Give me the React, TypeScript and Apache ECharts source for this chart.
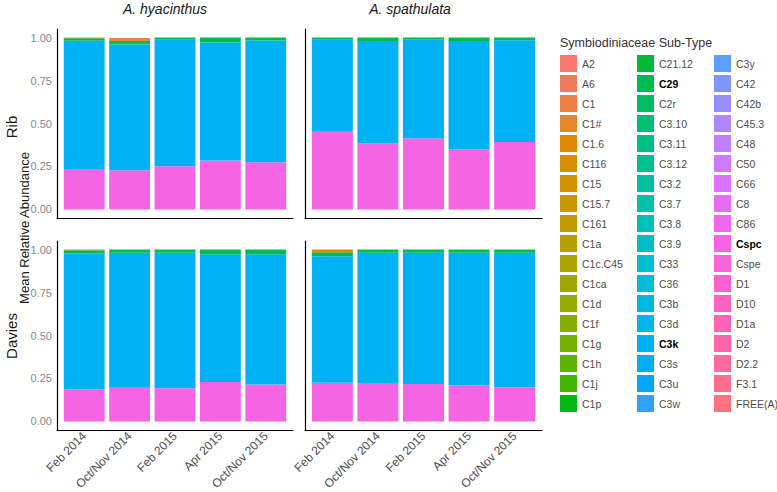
import React, { useEffect, useRef } from "react";
import * as echarts from "echarts";

const categories = ["Feb 2014", "Oct/Nov 2014", "Feb 2015", "Apr 2015", "Oct/Nov 2015"];

const subtypes = [
  "A2", "A6", "C1", "C1#", "C1.6", "C116", "C15", "C15.7", "C161", "C1a", "C1c.C45", "C1ca", "C1d", "C1f", "C1g", "C1h", "C1j", "C1p",
  "C21.12", "C29", "C2r", "C3.10", "C3.11", "C3.12", "C3.2", "C3.7", "C3.8", "C3.9", "C33", "C36", "C3b", "C3d", "C3k", "C3s", "C3u", "C3w",
  "C3y", "C42", "C42b", "C45.3", "C48", "C50", "C66", "C8", "C86", "Cspc", "Cspe", "D1", "D10", "D1a", "D2", "D2.2", "F3.1", "FREE(A)",
];
const boldTypes = ["C29", "C3k", "Cspc"];

const yTicks = [0, 0.25, 0.5, 0.75, 1];

// Rib, A. hyacinthus
const ribHyaCspc = [0.235, 0.228, 0.251, 0.284, 0.274];
const ribHyaC3k = [0.746, 0.732, 0.736, 0.687, 0.709];
const ribHyaC3_10 = [0.0, 0.008, 0.0, 0.0, 0.0];
const ribHyaC29 = [0.015, 0.012, 0.013, 0.029, 0.017];
const ribHyaC1 = [0.004, 0.018, 0.0, 0.0, 0.0];

// Rib, A. spathulata
const ribSpaCspc = [0.457, 0.383, 0.413, 0.348, 0.393];
const ribSpaC3k = [0.53, 0.597, 0.577, 0.632, 0.592];
const ribSpaC29 = [0.013, 0.02, 0.01, 0.02, 0.015];

// Davies, A. hyacinthus
const davHyaCspc = [0.187, 0.196, 0.193, 0.229, 0.215];
const davHyaC3k = [0.79, 0.785, 0.788, 0.744, 0.758];
const davHyaC29 = [0.019, 0.019, 0.019, 0.027, 0.027];
const davHyaC1 = [0.004, 0.0, 0.0, 0.0, 0.0];

// Davies, A. spathulata
const davSpaCspc = [0.225, 0.223, 0.217, 0.209, 0.199];
const davSpaC3k = [0.736, 0.758, 0.764, 0.772, 0.782];
const davSpaC29 = [0.023, 0.019, 0.019, 0.019, 0.019];
const davSpaC1_6 = [0.016, 0.0, 0.0, 0.0, 0.0];

const panelData: Record<string, number[]>[] = [
  { Cspc: ribHyaCspc, C3k: ribHyaC3k, "C3.10": ribHyaC3_10, C29: ribHyaC29, C1: ribHyaC1 },
  { Cspc: ribSpaCspc, C3k: ribSpaC3k, C29: ribSpaC29 },
  { Cspc: davHyaCspc, C3k: davHyaC3k, C29: davHyaC29, C1: davHyaC1 },
  { Cspc: davSpaCspc, C3k: davSpaC3k, C29: davSpaC29, "C1.6": davSpaC1_6 },
];

function hcl(h: number, c: number, l: number): string {
  const hr = (h * Math.PI) / 180;
  const U = c * Math.cos(hr);
  const V = c * Math.sin(hr);
  const Y = l > 7.999592 ? 100 * Math.pow((l + 16) / 116, 3) : (100 * l) / 903.3;
  const Xn = 95.047, Yn = 100, Zn = 108.883;
  const den = Xn + 15 * Yn + 3 * Zn;
  const un = (4 * Xn) / den, vn = (9 * Yn) / den;
  const u = U / (13 * l) + un;
  const v = V / (13 * l) + vn;
  const X = (9 * Y * u) / (4 * v);
  const Z = -X / 3 - 5 * Y + (3 * Y) / v;
  const x = X / 100, y = Y / 100, z = Z / 100;
  const lin = [
    3.240479 * x - 1.53715 * y - 0.498535 * z,
    -0.969256 * x + 1.875992 * y + 0.041556 * z,
    0.055648 * x - 0.204043 * y + 1.057311 * z,
  ];
  const g = lin.map((t) => {
    let s = t <= 0.0031308 ? 12.92 * t : 1.055 * Math.pow(t, 1 / 2.4) - 0.055;
    s = Math.max(0, Math.min(1, s));
    return Math.round(s * 255).toString(16).padStart(2, "0");
  });
  return "#" + g.join("");
}

const colors: Record<string, string> = {};
subtypes.forEach((n, i) => {
  colors[n] = hcl(15 + (360 * i) / subtypes.length, 100, 65);
});

const FONT = "'Liberation Sans', Arial, sans-serif";

const panels = [
  { left: 57, top: 29, width: 236, height: 189, showX: false, showY: true },
  { left: 305, top: 29, width: 237, height: 189, showX: false, showY: false },
  { left: 57, top: 241, width: 236, height: 189, showX: true, showY: true },
  { left: 305, top: 241, width: 237, height: 189, showX: true, showY: false },
];

export default function App() {
  const ref = useRef<HTMLDivElement>(null);
  useEffect(() => {
    if (!ref.current) return;
    const chart = echarts.init(ref.current, null, { renderer: "svg" });

    // outer grids 0..3 (full panel, axis lines + y labels), inner grids 4..7 (bars)
    const grids: any[] = [];
    const xAxes: any[] = [];
    const yAxes: any[] = [];
    panels.forEach((p, pi) => {
      grids.push({ left: p.left, top: p.top, width: p.width, height: p.height, outerBoundsMode: "none", containLabel: false });
      xAxes.push({
        type: "value",
        gridIndex: pi,
        min: 0,
        max: 1,
        splitLine: { show: false },
        axisTick: { show: false },
        axisLabel: { show: false },
        axisLine: { show: true, onZero: false, lineStyle: { color: "#000", width: 1.2 } },
      });
      yAxes.push({
        type: "value",
        gridIndex: pi,
        min: -0.05,
        max: 1.05,
        splitLine: { show: false },
        axisTick: { show: false },
        axisLine: { show: true, onZero: false, lineStyle: { color: "#000", width: 1.2 } },
        axisLabel: {
          show: p.showY,
          customValues: yTicks,
          margin: 5,
          fontFamily: FONT,
          fontSize: 11,
          color: "#8a8a8a",
          formatter: (v: number) => v.toFixed(2),
        },
      });
    });
    panels.forEach((p, pi) => {
      const unit = p.width / 5.2;
      grids.push({
        left: p.left + 0.1 * unit,
        top: p.top,
        width: 5 * unit,
        height: p.height,
        outerBoundsMode: "none",
        containLabel: false,
      });
      xAxes.push({
        type: "category",
        gridIndex: 4 + pi,
        data: categories,
        boundaryGap: true,
        splitLine: { show: false },
        axisTick: { show: false },
        axisLine: { show: false },
        axisLabel: {
          show: p.showX,
          interval: 0,
          rotate: 45,
          margin: 4,
          fontFamily: FONT,
          fontSize: 12,
          color: "#4d4d4d",
        },
      });
      yAxes.push({
        type: "value",
        gridIndex: 4 + pi,
        min: -0.05,
        max: 1.05,
        show: false,
        splitLine: { show: false },
      });
    });

    const series: any[] = [];
    panels.forEach((p, pi) => {
      for (let k = subtypes.length - 1; k >= 0; k--) {
        const name = subtypes[k];
        const vals = panelData[pi][name];
        if (!vals && pi !== 0) continue;
        const arr = vals || [0, 0, 0, 0, 0];
        series.push({
          type: "bar",
          name,
          xAxisIndex: 4 + pi,
          yAxisIndex: 4 + pi,
          stack: "p" + pi,
          barCategoryGap: "10%",
          itemStyle: { color: colors[name] },
          data: arr,
          emphasis: { disabled: true },
        });
      }
    });

    const legends = [0, 1, 2].map((c) => ({
      orient: "vertical",
      left: 560 + c * 77,
      top: 55,
      padding: 0,
      itemWidth: 17,
      itemHeight: 17,
      itemGap: 3,
      icon: "rect",
      selectedMode: false,
      data: subtypes.slice(c * 18, c * 18 + 18),
      formatter: (n: string) => (boldTypes.includes(n) ? `{b|${n}}` : n),
      textStyle: {
        fontFamily: FONT,
        fontSize: 10.5,
        color: "#4d4d4d",
        rich: { b: { fontFamily: FONT, fontSize: 10.5, fontWeight: "bold", color: "#000" } },
      },
    }));

    const option: any = {
      animation: false,
      backgroundColor: "#fff",
      grid: grids,
      xAxis: xAxes,
      yAxis: yAxes,
      legend: legends,
      series,
      graphic: [
        {
          type: "text",
          x: 165,
          y: 9,
          style: { text: "A. hyacinthus", fontFamily: FONT, fontSize: 14, fontStyle: "italic", fill: "#1a1a1a", align: "center", verticalAlign: "middle" },
        },
        {
          type: "text",
          x: 410,
          y: 9,
          style: { text: "A. spathulata", fontFamily: FONT, fontSize: 14, fontStyle: "italic", fill: "#1a1a1a", align: "center", verticalAlign: "middle" },
        },
        {
          type: "text",
          x: 11,
          y: 127,
          rotation: Math.PI / 2,
          style: { text: "Rib", fontFamily: FONT, fontSize: 15, fill: "#1a1a1a", align: "center", verticalAlign: "middle" },
        },
        {
          type: "text",
          x: 11,
          y: 336,
          rotation: Math.PI / 2,
          style: { text: "Davies", fontFamily: FONT, fontSize: 15, fill: "#1a1a1a", align: "center", verticalAlign: "middle" },
        },
        {
          type: "text",
          x: 24,
          y: 228,
          rotation: Math.PI / 2,
          style: { text: "Mean Relative Abundance", fontFamily: FONT, fontSize: 13, fill: "#1a1a1a", align: "center", verticalAlign: "middle" },
        },
        {
          type: "text",
          x: 560,
          y: 43,
          style: { text: "Symbiodiniaceae Sub-Type", fontFamily: FONT, fontSize: 12.5, fill: "#333", align: "left", verticalAlign: "middle" },
        },
      ],
    };
    chart.setOption(option);
    return () => chart.dispose();
  }, []);
  return <div ref={ref} style={{ position: "fixed", left: 0, top: 0, width: 777, height: 492 }} />;
}
